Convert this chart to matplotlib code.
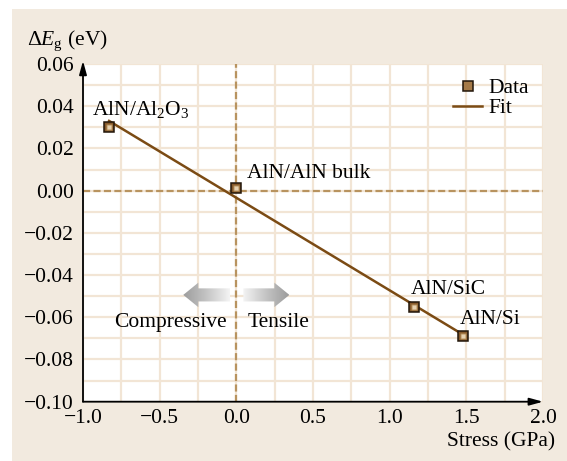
import numpy as np
import matplotlib
matplotlib.use("Agg")
import matplotlib.pyplot as plt
from matplotlib.patches import Rectangle, Polygon
from matplotlib.lines import Line2D

plt.rcParams['font.family'] = ['Liberation Serif', 'DejaVu Serif']
plt.rcParams['mathtext.fontset'] = 'custom'
plt.rcParams['mathtext.rm'] = 'Liberation Serif'
plt.rcParams['mathtext.it'] = 'Liberation Serif:italic'
plt.rcParams['mathtext.bf'] = 'Liberation Serif:bold'

# Band-gap shift vs. residual stress for AlN films on different substrates
labels = [r'AlN/Al$_2$O$_3$', 'AlN/AlN bulk', 'AlN/SiC', 'AlN/Si']
stress = [-0.83, 0.0, 1.16, 1.48]          # GPa
delta_eg = [0.0303, 0.0011, -0.0552, -0.0691]  # eV
label_offsets = [(-17, 12), (11, 10), (-3, 13), (-3, 12)]  # pixels

x_ticks = [-1.0, -0.5, 0.0, 0.5, 1.0, 1.5, 2.0]
y_ticks = [0.06, 0.04, 0.02, 0.00, -0.02, -0.04, -0.06, -0.08, -0.10]

BEIGE = '#f2eadf'
GRID = '#f2e5d5'
ZERO = '#b8935f'
FIT = '#7b4b14'
FS = 15.5

fig = plt.figure(figsize=(5.67, 4.61), dpi=100, facecolor='white')
fig.patches.append(Rectangle((12 / 567, 0), 1, (461 - 9) / 461,
                             transform=fig.transFigure, facecolor=BEIGE,
                             edgecolor='none', zorder=-10))

ax = fig.add_axes([83 / 567, (461 - 401.7) / 461, 460 / 567, 337.7 / 461])
ax.set_facecolor('white')
ax.set_xlim(-1.0, 2.0)
ax.set_ylim(-0.10, 0.06)

# fine grid
for gx in np.arange(-1.0, 2.0 + 1e-9, 0.25):
    ax.axvline(gx, color=GRID, lw=1.6, zorder=0)
for gy in np.arange(-0.10, 0.06 + 1e-9, 0.01):
    ax.axhline(gy, color=GRID, lw=1.6, zorder=0)

# zero reference lines
ax.axhline(0, color=ZERO, lw=1.6, ls=(0, (3.2, 1.5)), zorder=1)
ax.axvline(0, color=ZERO, lw=1.6, ls=(0, (3.2, 1.5)), zorder=1)

# linear fit
slope, intercept = np.polyfit(stress, delta_eg, 1)
fx = np.array([min(stress), max(stress)])
ax.plot(fx, slope * fx + intercept, color=FIT, lw=1.8, zorder=3)

# data squares (layered for a shaded look)
ax.plot(stress, delta_eg, ls='none', marker='s', ms=7.6, mfc='#86592a',
        mec='#22160a', mew=1.1, zorder=4)
ax.plot(stress, delta_eg, ls='none', marker='s', ms=4.6, mfc='#b8935f',
        mec='none', zorder=5)
ax.plot(stress, delta_eg, ls='none', marker='s', ms=2.4, mfc='#e6d2b2',
        mec='none', zorder=5)

for lab, x, y, off in zip(labels, stress, delta_eg, label_offsets):
    ax.annotate(lab, (x, y), xytext=off, textcoords='offset pixels',
                ha='left', va='baseline', fontsize=FS, zorder=6)

# stress-direction arrows with gradient fill
def grad_arrow(x_tail, x_tip, yc):
    hw, sw = 0.0058, 0.0031
    hl = 0.098 * np.sign(x_tip - x_tail)
    xb = x_tip - hl
    verts = [(x_tail, yc - sw), (xb, yc - sw), (xb, yc - hw), (x_tip, yc),
             (xb, yc + hw), (xb, yc + sw), (x_tail, yc + sw)]
    poly = Polygon(verts, closed=True, facecolor='none', edgecolor='none',
                   transform=ax.transData)
    ax.add_patch(poly)
    g = np.linspace(0, 1, 256)
    if x_tip < x_tail:
        g = g[::-1]
    g = g.reshape(1, -1)
    x0, x1 = sorted([x_tail, x_tip])
    cmap = matplotlib.colors.LinearSegmentedColormap.from_list(
        'g', ['#f4f4f4', '#c4c4c4', '#9c9c9c'])
    im = ax.imshow(g, cmap=cmap, extent=[x0, x1, yc - hw, yc + hw],
                   aspect='auto', zorder=2, interpolation='bilinear')
    im.set_clip_path(poly)

grad_arrow(-0.04, -0.346, -0.0494)
grad_arrow(0.046, 0.346, -0.0494)
ax.set_xlim(-1.0, 2.0)
ax.set_ylim(-0.10, 0.06)

ax.text(-0.065, -0.0645, 'Compressive', ha='right', va='baseline', fontsize=FS)
ax.text(0.072, -0.0645, 'Tensile', ha='left', va='baseline', fontsize=FS)

# axes with arrow heads
for s in ax.spines.values():
    s.set_visible(False)
ax.annotate('', xy=(-1.0, 0.0615), xytext=(-1.0, -0.10),
            xycoords='data', annotation_clip=False,
            arrowprops=dict(arrowstyle='-|>,head_length=0.8,head_width=0.22',
                            color='black', lw=1.3, shrinkA=0, shrinkB=0))
ax.annotate('', xy=(2.0, -0.10), xytext=(-1.0, -0.10),
            xycoords='data', annotation_clip=False,
            arrowprops=dict(arrowstyle='-|>,head_length=0.8,head_width=0.22',
                            color='black', lw=1.3, shrinkA=0, shrinkB=0))

ax.set_xticks(x_ticks)
ax.set_xticklabels([f'{v:.1f}'.replace('-', '\u2212') for v in x_ticks])
ax.set_yticks(y_ticks)
ax.set_yticklabels([f'{v:.2f}'.replace('-', '\u2212') for v in y_ticks])
ax.tick_params(length=0, labelsize=FS)
ax.tick_params(axis='y', pad=6.5)
ax.tick_params(axis='x', pad=5.5)

fig.text(555 / 567, 1 - 446.7 / 461, 'Stress (GPa)', ha='right',
         va='baseline', fontsize=FS)
fig.text(27 / 567, 1 - 45 / 461, r'$\Delta E_\mathrm{g}$ (eV)', ha='left',
         va='baseline', fontsize=FS)

# legend
h_data = Line2D([], [], ls='none', marker='s', ms=7.6, mfc='#a57a48',
                mec='#22160a', mew=1.1)
h_fit = Line2D([], [], color=FIT, lw=1.8)
ax.legend([h_data, h_fit], ['Data', 'Fit'], loc='upper left',
          bbox_to_anchor=((453 - 83) / 460, (401.7 - 78) / 337.7),
          frameon=False, fontsize=FS, handlelength=1.35, handletextpad=0.3,
          labelspacing=0.0, borderpad=0, borderaxespad=0)

fig.savefig('out.png', dpi=100, facecolor='white')
